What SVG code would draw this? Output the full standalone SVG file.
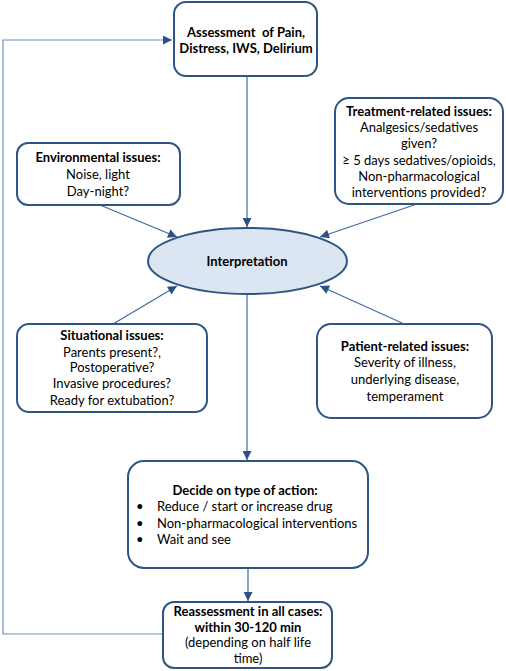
<svg xmlns="http://www.w3.org/2000/svg" width="506" height="671" viewBox="0 0 506 671">
<defs>
<marker id="ah" viewBox="0 0 10 10" refX="10" refY="5" markerWidth="10" markerHeight="9" markerUnits="userSpaceOnUse" orient="auto">
<path d="M0,0 L10,5 L0,10 Z" fill="#2c5187"/>
</marker>
</defs>
<style>
.box{fill:#fff;stroke:#2e5585;stroke-width:2}
.ell{fill:#dce6f2;stroke:#2e5585;stroke-width:2}
.ln{fill:none;stroke:#3f6aa3;stroke-width:1.2}
.loop{fill:none;stroke:#6f8fbf;stroke-width:1.2}
text{font-family:Lato,"Liberation Sans",sans-serif;font-size:13px;fill:#000;text-anchor:middle}
.b{font-weight:bold}
.l{text-anchor:start}
</style>
<g id="connectors">
<path class="loop" d="M163,634 H3 V40 H172" marker-end="url(#ah)"/>
<line class="ln" x1="247" y1="76" x2="247" y2="227" marker-end="url(#ah)"/>
<line class="ln" x1="100" y1="205" x2="177" y2="237" marker-end="url(#ah)"/>
<line class="ln" x1="417" y1="204" x2="320" y2="237" marker-end="url(#ah)"/>
<line class="ln" x1="113" y1="324" x2="177" y2="286" marker-end="url(#ah)"/>
<line class="ln" x1="402" y1="323" x2="320" y2="286" marker-end="url(#ah)"/>
<line class="ln" x1="247" y1="294" x2="247" y2="460" marker-end="url(#ah)"/>
<line class="ln" x1="248" y1="568" x2="248" y2="601" marker-end="url(#ah)"/>
</g>
<g id="assessment">
<rect class="box" x="174" y="2" width="143" height="74" rx="12"/>
<text class="b" x="246" y="37" xml:space="preserve">Assessment  of Pain,</text>
<text class="b" x="246" y="53">Distress, IWS, Delirium</text>
</g>
<g id="environmental">
<rect class="box" x="17" y="143" width="163" height="62" rx="11"/>
<text class="b" x="98" y="162">Environmental issues:</text>
<text x="98" y="179">Noise, light</text>
<text x="98" y="196">Day-night?</text>
</g>
<g id="treatment">
<rect class="box" x="335" y="98" width="168" height="106" rx="14"/>
<text class="b" x="419" y="116">Treatment-related issues:</text>
<text x="419" y="132">Analgesics/sedatives</text>
<text x="419" y="148">given?</text>
<text x="419" y="165">≥ 5 days sedatives/opioids,</text>
<text x="419" y="181">Non-pharmacological</text>
<text x="419" y="197">interventions provided?</text>
</g>
<g id="interpretation">
<ellipse class="ell" cx="247.5" cy="261" rx="99.5" ry="33"/>
<text class="b" x="247" y="266">Interpretation</text>
</g>
<g id="situational">
<rect class="box" x="17" y="324" width="190" height="88" rx="12"/>
<text class="b" x="112" y="340">Situational issues:</text>
<text x="112" y="357">Parents present?,</text>
<text x="112" y="372">Postoperative?</text>
<text x="112" y="388">Invasive procedures?</text>
<text x="112" y="405">Ready for extubation?</text>
</g>
<g id="patient">
<rect class="box" x="317" y="324" width="175" height="94" rx="14"/>
<text class="b" x="405" y="351">Patient-related issues:</text>
<text x="405" y="367">Severity of illness,</text>
<text x="405" y="384">underlying disease,</text>
<text x="405" y="401">temperament</text>
</g>
<g id="decide">
<rect class="box" x="128" y="461" width="240" height="107" rx="16"/>
<text class="b" x="245" y="495">Decide on type of action:</text>
<text class="l" x="136" y="511">•</text>
<text class="l" x="157" y="511">Reduce / start or increase drug</text>
<text class="l" x="136" y="528">•</text>
<text class="l" x="157" y="528">Non-pharmacological interventions</text>
<text class="l" x="136" y="544">•</text>
<text class="l" x="157" y="544">Wait and see</text>
</g>
<g id="reassessment">
<rect class="box" x="163" y="602" width="169" height="66" rx="11"/>
<text class="b" x="248" y="616">Reassessment in all cases:</text>
<text class="b" x="248" y="632">within 30-120 min</text>
<text x="248" y="647">(depending on half life</text>
<text x="248" y="663">time)</text>
</g>
</svg>
